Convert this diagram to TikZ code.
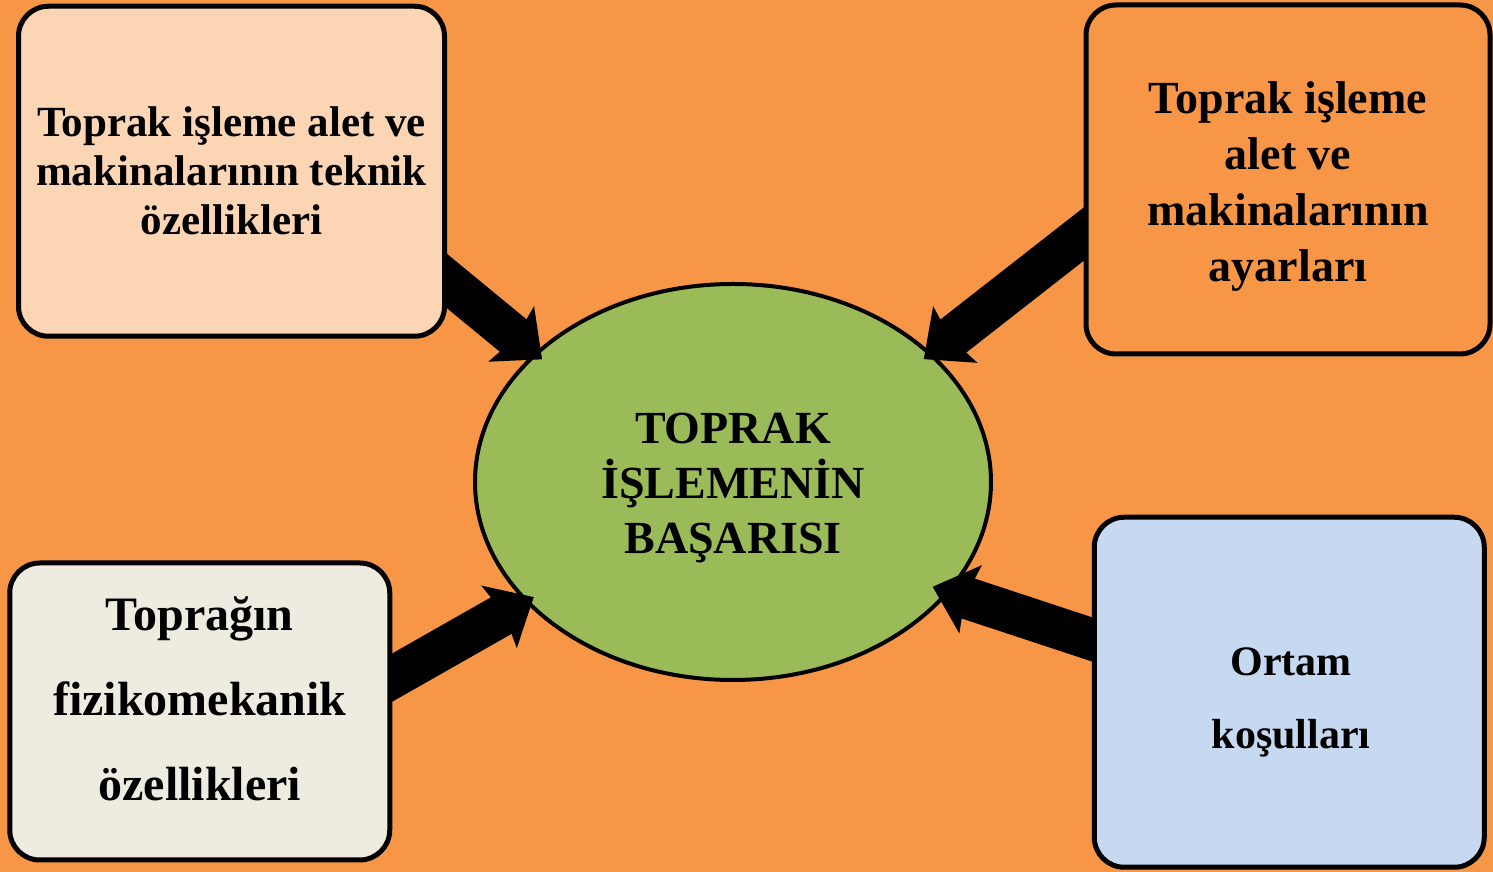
\documentclass[tikz,border=0pt]{standalone}
\usepackage{fontspec}
\usepackage{tikz}
\setmainfont{Liberation Serif}
\usetikzlibrary{shapes,arrows.meta,positioning,calc}
\definecolor{soilorange}{RGB}{247,150,70}
\definecolor{peachbox}{RGB}{252,213,181}
\definecolor{sandbox}{RGB}{238,236,225}
\definecolor{bluebox}{RGB}{198,217,241}
\definecolor{leafgreen}{RGB}{155,187,89}

\pgfdeclarelayer{bg}
\pgfdeclarelayer{fg}
\pgfsetlayers{bg,main,fg}

\tikzset{
  factor/.style={draw=black, line width=5pt, rounded corners=30pt, align=center, inner sep=0pt},
  factortext/.style={align=center, inner sep=0pt},
  push/.style={line width=42pt, -{Stealth[width=72pt,length=40pt,inset=6pt,line width=0pt]}, shorten <=-30pt, shorten >=-10pt}
}

\begin{document}
\begin{tikzpicture}[x=1pt,y=1pt]
        % Background
        \begin{pgfonlayer}{bg}
        \fill[soilorange] (0,0) rectangle (1493,872);
        \end{pgfonlayer}
        \useasboundingbox (0,0) rectangle (1493,872);

        % Corner boxes
        \begin{pgfonlayer}{fg}
        \node[factor, fill=peachbox, minimum width=426pt, minimum height=330pt, font=\fontsize{43}{49}\selectfont\bfseries] (tools) at (231.5,700.75) {Toprak işleme alet ve\\makinalarının teknik\\özellikleri};
        \node[factor, fill=soilorange, minimum width=404pt, minimum height=349pt,
              label={[factortext, yshift=-7pt, font=\fontsize{46}{56}\selectfont\bfseries]center:Toprak işleme\\alet ve\\makinalarının\\ayarları}] (setup) at (1288,692.5) {};
        \node[factor, fill=sandbox, minimum width=380pt, minimum height=297pt,
              label={[factortext, yshift=13pt, font=\fontsize{48}{85}\selectfont\bfseries]center:Toprağın\\fizikomekanik\\özellikleri}] (soil) at (199.75,160.5) {};
        \node[factor, fill=bluebox, minimum width=390pt, minimum height=350pt,
              label={[factortext, yshift=-10pt, xshift=2pt, font=\fontsize{42}{73}\selectfont\bfseries]center:Ortam\\koşulları}] (env) at (1289.25,179.75) {};
        \end{pgfonlayer}

        % Main ellipse
        \node[ellipse, draw=black, line width=4pt, fill=leafgreen, minimum width=516pt, minimum height=396pt, inner sep=0pt,
              label={[factortext, yshift=-6pt, font=\fontsize{46}{55}\selectfont\bfseries]center:TOPRAK\\İŞLEMENİN\\BAŞARISI}] (success) at (733,390) {};

        % Arrows
        \draw[push] (tools.-27) -- (success.147.5);
        \draw[push] (setup.195) -- (success.33);
        \draw[push] (soil.10) -- (success.210);
        \draw[push, shorten >=-18pt] (env.165) -- (success.-27);
    \end{tikzpicture}
\end{document}
